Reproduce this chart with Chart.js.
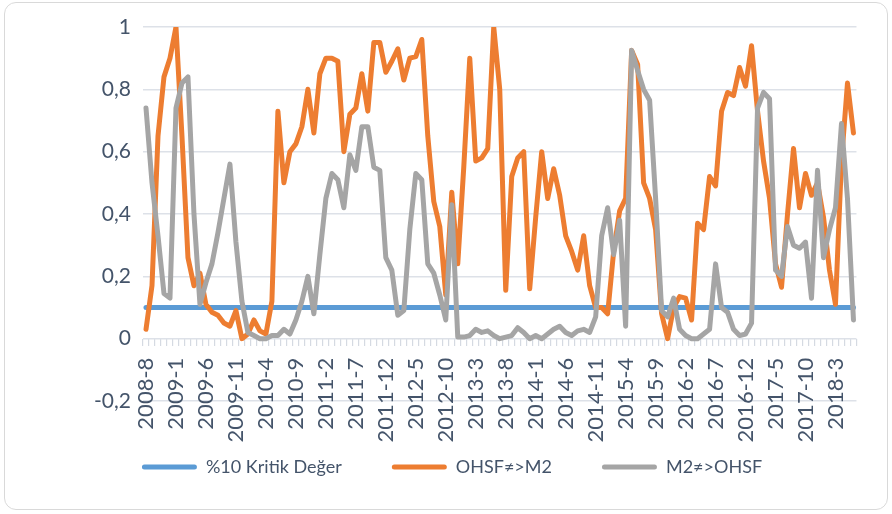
<!DOCTYPE html>
<html>
<head>
<meta charset="utf-8">
<script src="https://cdn.jsdelivr.net/npm/chart.js@4.4.1/dist/chart.umd.min.js"></script>
<style>
  html, body { margin: 0; padding: 0; background: #ffffff; }
  #wrap { position: relative; width: 892px; height: 514px; }
  #frame { position: absolute; left: 4px; top: 2px; width: 882px; height: 506px;
           border: 1px solid #d9d9d9; border-radius: 12px; pointer-events: none; }
  canvas { position: absolute; left: 0; top: 0; }
</style>
</head>
<body>
<div id="wrap">
  <canvas id="c" width="892" height="514"></canvas>
  <div id="frame"></div>
</div>
<script>
// Monthly categories, 2008-8 .. 2018-6
const categories = [
  '2008-8','2008-9','2008-10','2008-11','2008-12',
  '2009-1','2009-2','2009-3','2009-4','2009-5','2009-6','2009-7','2009-8','2009-9','2009-10','2009-11','2009-12',
  '2010-1','2010-2','2010-3','2010-4','2010-5','2010-6','2010-7','2010-8','2010-9','2010-10','2010-11','2010-12',
  '2011-1','2011-2','2011-3','2011-4','2011-5','2011-6','2011-7','2011-8','2011-9','2011-10','2011-11','2011-12',
  '2012-1','2012-2','2012-3','2012-4','2012-5','2012-6','2012-7','2012-8','2012-9','2012-10','2012-11','2012-12',
  '2013-1','2013-2','2013-3','2013-4','2013-5','2013-6','2013-7','2013-8','2013-9','2013-10','2013-11','2013-12',
  '2014-1','2014-2','2014-3','2014-4','2014-5','2014-6','2014-7','2014-8','2014-9','2014-10','2014-11','2014-12',
  '2015-1','2015-2','2015-3','2015-4','2015-5','2015-6','2015-7','2015-8','2015-9','2015-10','2015-11','2015-12',
  '2016-1','2016-2','2016-3','2016-4','2016-5','2016-6','2016-7','2016-8','2016-9','2016-10','2016-11','2016-12',
  '2017-1','2017-2','2017-3','2017-4','2017-5','2017-6','2017-7','2017-8','2017-9','2017-10','2017-11','2017-12',
  '2018-1','2018-2','2018-3','2018-4','2018-5','2018-6'
];

// Category labels shown on the axis
const xTickLabels = [
  '2008-8','2009-1','2009-6','2009-11','2010-4','2010-9','2011-2','2011-7','2011-12','2012-5',
  '2012-10','2013-3','2013-8','2014-1','2014-6','2014-11','2015-4','2015-9','2016-2','2016-7',
  '2016-12','2017-5','2017-10','2018-3'
];

const yTickLabels = ['-0,2', '0', '0,2', '0,4', '0,6', '0,8', '1'];

const seriesNames = ['%10 Kritik Değer', 'OHSF≠>M2', 'M2≠>OHSF'];

// %10 critical value (constant)
const criticalValue = [
  0.1,0.1,0.1,0.1,0.1,0.1,0.1,0.1,0.1,0.1,0.1,0.1,0.1,0.1,0.1,0.1,0.1,0.1,0.1,0.1,
  0.1,0.1,0.1,0.1,0.1,0.1,0.1,0.1,0.1,0.1,0.1,0.1,0.1,0.1,0.1,0.1,0.1,0.1,0.1,0.1,
  0.1,0.1,0.1,0.1,0.1,0.1,0.1,0.1,0.1,0.1,0.1,0.1,0.1,0.1,0.1,0.1,0.1,0.1,0.1,0.1,
  0.1,0.1,0.1,0.1,0.1,0.1,0.1,0.1,0.1,0.1,0.1,0.1,0.1,0.1,0.1,0.1,0.1,0.1,0.1,0.1,
  0.1,0.1,0.1,0.1,0.1,0.1,0.1,0.1,0.1,0.1,0.1,0.1,0.1,0.1,0.1,0.1,0.1,0.1,0.1,0.1,
  0.1,0.1,0.1,0.1,0.1,0.1,0.1,0.1,0.1,0.1,0.1,0.1,0.1,0.1,0.1,0.1,0.1,0.1,0.1
];

// OHSF ≠> M2
const ohsfToM2 = [
  0.03, 0.17, 0.65, 0.84, 0.90, 1.00, 0.65, 0.26, 0.17, 0.21,
  0.11, 0.085, 0.075, 0.05, 0.04, 0.09, 0.00, 0.015, 0.06, 0.025,
  0.015, 0.12, 0.73, 0.50, 0.60, 0.625, 0.68, 0.80, 0.66, 0.85,
  0.90, 0.90, 0.89, 0.60, 0.72, 0.74, 0.85, 0.73, 0.95, 0.95,
  0.855, 0.89, 0.93, 0.83, 0.90, 0.905, 0.96, 0.65, 0.44, 0.36,
  0.14, 0.47, 0.24, 0.55, 0.90, 0.57, 0.58, 0.61, 1.00, 0.80,
  0.155, 0.52, 0.58, 0.60, 0.16, 0.39, 0.60, 0.45, 0.545, 0.46,
  0.33, 0.28, 0.22, 0.33, 0.17, 0.10, 0.10, 0.08, 0.28, 0.41,
  0.45, 0.925, 0.88, 0.50, 0.45, 0.35, 0.08, 0.00, 0.10, 0.135,
  0.13, 0.06, 0.37, 0.35, 0.52, 0.49, 0.73, 0.79, 0.78, 0.87,
  0.81, 0.94, 0.73, 0.57, 0.45, 0.24, 0.165, 0.40, 0.61, 0.42,
  0.53, 0.46, 0.50, 0.39, 0.22, 0.11, 0.57, 0.82, 0.66
];

// M2 ≠> OHSF
const m2ToOhsf = [
  0.74, 0.50, 0.33, 0.145, 0.13, 0.74, 0.82, 0.84, 0.40, 0.11,
  0.18, 0.24, 0.34, 0.45, 0.56, 0.31, 0.12, 0.02, 0.01, 0.00,
  0.00, 0.01, 0.01, 0.03, 0.015, 0.06, 0.12, 0.20, 0.08, 0.27,
  0.45, 0.53, 0.51, 0.42, 0.59, 0.54, 0.68, 0.68, 0.55, 0.54,
  0.26, 0.22, 0.075, 0.09, 0.35, 0.53, 0.51, 0.24, 0.21, 0.14,
  0.06, 0.43, 0.005, 0.005, 0.01, 0.03, 0.02, 0.025, 0.01, 0.00,
  0.005, 0.01, 0.035, 0.02, 0.00, 0.01, 0.00, 0.015, 0.03, 0.04,
  0.02, 0.01, 0.025, 0.03, 0.02, 0.07, 0.33, 0.42, 0.27, 0.38,
  0.04, 0.925, 0.86, 0.80, 0.765, 0.45, 0.09, 0.07, 0.13, 0.03,
  0.01, 0.00, 0.00, 0.015, 0.03, 0.24, 0.10, 0.085, 0.03, 0.01,
  0.015, 0.05, 0.74, 0.79, 0.77, 0.22, 0.20, 0.36, 0.30, 0.29,
  0.31, 0.13, 0.54, 0.26, 0.35, 0.42, 0.69, 0.45, 0.06
];

const colors = ['#5B9BD5', '#ED7D31', '#A5A5A5'];
const textColor = '#44546A';
const gridColor = '#dde1e8';

Chart.defaults.font.family = 'Lato, "Open Sans", sans-serif';

function lineDataset(label, data, color, order) {
  return {
    label: label,
    data: data,
    borderColor: color,
    backgroundColor: color,
    borderWidth: 5,
    pointRadius: 0,
    pointHoverRadius: 0,
    tension: 0,
    borderJoinStyle: 'round',
    borderCapStyle: 'round',
    fill: false,
    order: order
  };
}

new Chart(document.getElementById('c').getContext('2d'), {
  type: 'line',
  data: {
    labels: categories,
    datasets: [
      lineDataset(seriesNames[0], criticalValue, colors[0], 2),
      lineDataset(seriesNames[1], ohsfToM2, colors[1], 1),
      lineDataset(seriesNames[2], m2ToOhsf, colors[2], 0)
    ]
  },
  options: {
    responsive: false,
    animation: false,
    events: [],
    layout: { padding: { top: 27, right: 31, bottom: 28, left: 43 } },
    scales: {
      x: {
        position: { y: 0 },
        offset: true,
        grid: {
          offset: true,
          drawOnChartArea: false,
          drawTicks: true,
          tickLength: 7,
          color: '#d5dae2',
          lineWidth: 1.2
        },
        border: { display: false },
        ticks: {
          autoSkip: false,
          minRotation: 90,
          maxRotation: 90,
          padding: 12,
          color: textColor,
          font: { size: 22 },
          callback: function (value, index) {
            const lab = categories[index];
            return xTickLabels.includes(lab) ? lab : '';
          }
        }
      },
      y: {
        min: -0.2,
        max: 1,
        afterFit: function (scale) { scale.width = 100; },
        grid: { color: gridColor, lineWidth: 1.5, drawTicks: false },
        border: { display: false },
        ticks: {
          stepSize: 0.2,
          padding: 12,
          color: textColor,
          font: { size: 21 },
          callback: function (value, index) { return yTickLabels[index]; }
        }
      }
    },
    plugins: {
      tooltip: { enabled: false },
      legend: {
        position: 'bottom',
        title: { display: true, text: ' ', padding: 0, font: { size: 7, lineHeight: 1 } },
        labels: {
          boxWidth: 55,
          boxHeight: 5,
          useBorderRadius: true,
          borderRadius: 2.5,
          padding: 50,
          color: textColor,
          font: { size: 18 },
          sort: function (a, b) { return a.datasetIndex - b.datasetIndex; },
          generateLabels: function (chart) {
            const items = Chart.defaults.plugins.legend.labels.generateLabels(chart);
            items.forEach(function (it) {
              it.lineWidth = 0;
              it.fillStyle = it.strokeStyle;
            });
            return items;
          }
        }
      }
    }
  }
});
</script>
</body>
</html>
